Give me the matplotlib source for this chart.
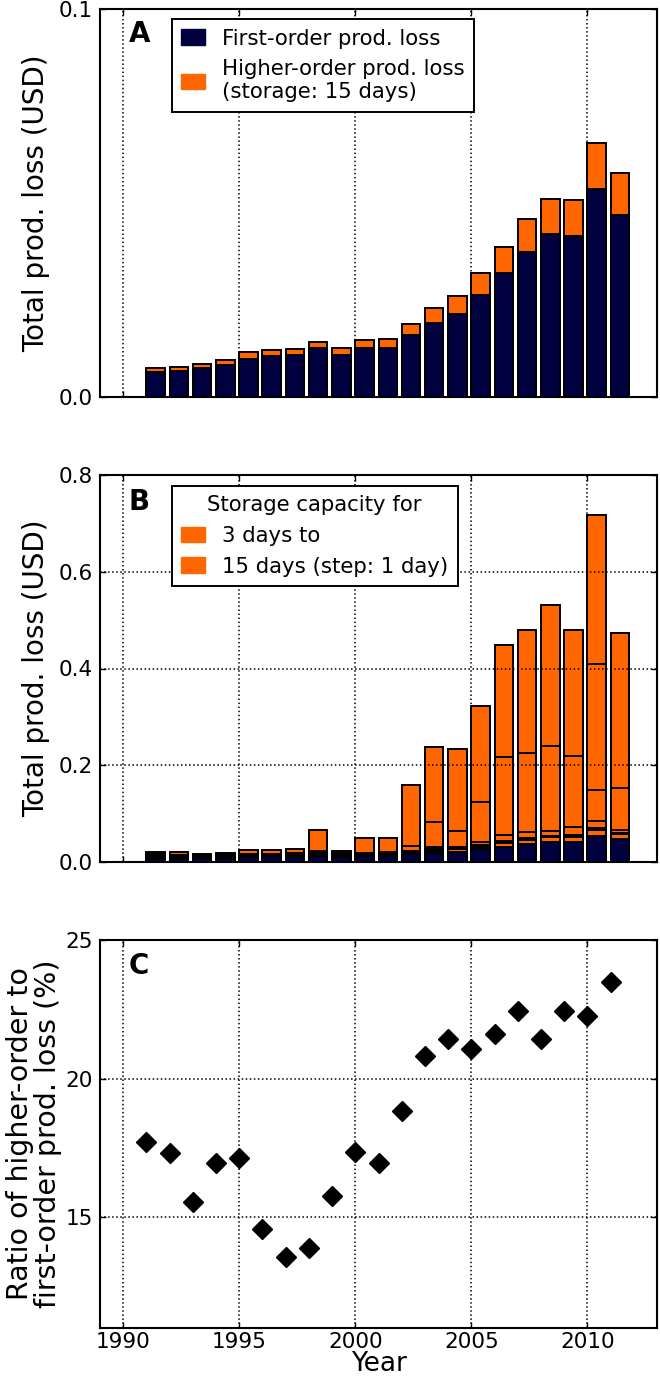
import matplotlib

matplotlib.use("Agg")
import matplotlib.pyplot as plt
from matplotlib.patches import Patch

years = list(range(1991, 2012))

# panel A: first-order loss and total with 15 days storage
first_order = [0.00645, 0.00671, 0.0074, 0.00825, 0.00989, 0.01058, 0.01092,
               0.01264, 0.01092, 0.01255, 0.01273, 0.01591, 0.01909, 0.0215,
               0.02631, 0.03199, 0.0374, 0.04196, 0.04153, 0.05365, 0.04695]
total_15_days = [0.00748, 0.00774, 0.00843, 0.00963, 0.01152, 0.01212, 0.01238,
                 0.01419, 0.01264, 0.0147, 0.01488, 0.01892, 0.02296, 0.02597,
                 0.0319, 0.03878, 0.04583, 0.05099, 0.05073, 0.06543, 0.0577]

# panel B: total loss for storage capacity 3..15 days (one list per year)
storage_days = list(range(3, 16))
total_by_year = [
    [0.0200, 0.0160, 0.0125, 0.0110, 0.0100, 0.0094, 0.0089, 0.0085, 0.0082, 0.0080, 0.0078, 0.0076, 0.00748],
    [0.0214, 0.0150, 0.0128, 0.0113, 0.0103, 0.0097, 0.0092, 0.0088, 0.0085, 0.0082, 0.0080, 0.0079, 0.00774],
    [0.0172, 0.0150, 0.0128, 0.0115, 0.0106, 0.0100, 0.0096, 0.0093, 0.0090, 0.0088, 0.0087, 0.0086, 0.00843],
    [0.0186, 0.0160, 0.0140, 0.0128, 0.0119, 0.0112, 0.0107, 0.0103, 0.0101, 0.0099, 0.0098, 0.0097, 0.00963],
    [0.0248, 0.0165, 0.0148, 0.0138, 0.0131, 0.0126, 0.0123, 0.0120, 0.0118, 0.0117, 0.0116, 0.0116, 0.01152],
    [0.0255, 0.0170, 0.0153, 0.0143, 0.0136, 0.0132, 0.0128, 0.0126, 0.0124, 0.0123, 0.0122, 0.0122, 0.01212],
    [0.0276, 0.0180, 0.0160, 0.0148, 0.0140, 0.0135, 0.0131, 0.0129, 0.0127, 0.0126, 0.0125, 0.0124, 0.01238],
    [0.0655, 0.0234, 0.0193, 0.0175, 0.0164, 0.0157, 0.0152, 0.0148, 0.0146, 0.0144, 0.0143, 0.0143, 0.01419],
    [0.0227, 0.0180, 0.0160, 0.0149, 0.0142, 0.0137, 0.0133, 0.0130, 0.0129, 0.0128, 0.0127, 0.0127, 0.01264],
    [0.0489, 0.0193, 0.0175, 0.0165, 0.0159, 0.0155, 0.0152, 0.0150, 0.0149, 0.0148, 0.0148, 0.0147, 0.0147],
    [0.0503, 0.0200, 0.0172, 0.0164, 0.0159, 0.0156, 0.0154, 0.0152, 0.0151, 0.0150, 0.0150, 0.0149, 0.01488],
    [0.160, 0.033, 0.0234, 0.0210, 0.0200, 0.0196, 0.0193, 0.0192, 0.0191, 0.0190, 0.0190, 0.0189, 0.01892],
    [0.237, 0.082, 0.031, 0.027, 0.0250, 0.0243, 0.0238, 0.0235, 0.0233, 0.0232, 0.0231, 0.0230, 0.02296],
    [0.2336, 0.064, 0.031, 0.0285, 0.0275, 0.0270, 0.0267, 0.0265, 0.0263, 0.0262, 0.0261, 0.0260, 0.02597],
    [0.3225, 0.124, 0.042, 0.035, 0.0335, 0.0328, 0.0324, 0.0322, 0.0321, 0.0320, 0.0320, 0.0319, 0.0319],
    [0.4487, 0.2164, 0.055, 0.0434, 0.0410, 0.0400, 0.0395, 0.0392, 0.0390, 0.0389, 0.0388, 0.0388, 0.03878],
    [0.4797, 0.226, 0.0627, 0.049, 0.0475, 0.0468, 0.0464, 0.0462, 0.0461, 0.0460, 0.0459, 0.0459, 0.04583],
    [0.532, 0.240, 0.064, 0.0544, 0.0525, 0.0518, 0.0514, 0.0512, 0.0511, 0.0511, 0.0510, 0.0510, 0.05099],
    [0.4797, 0.220, 0.073, 0.0558, 0.0530, 0.0520, 0.0515, 0.0512, 0.0510, 0.0509, 0.0508, 0.0508, 0.05073],
    [0.7167, 0.410, 0.149, 0.0848, 0.0696, 0.0670, 0.0662, 0.0659, 0.0657, 0.0656, 0.0655, 0.0655, 0.06543],
    [0.4735, 0.1537, 0.066, 0.0593, 0.0585, 0.0581, 0.0579, 0.0578, 0.0578, 0.0577, 0.0577, 0.0577, 0.0577],
]

# panel C: ratio of higher-order to first-order loss (%)
ratio_pct = [17.72, 17.33, 15.53, 16.97, 17.15, 14.57, 13.55, 13.89, 15.78, 17.34,
             16.97, 18.82, 20.82, 21.42, 21.07, 21.60, 22.43, 21.41, 22.44, 22.26, 23.47]

NAVY = "#000040"
ORANGE = "#ff6600"
W = 660
H = 1380


def rect(top, bottom):
    return [100 / W, 1 - bottom / H, 557 / W, (bottom - top) / H]


def style(axis, letter, letter_top):
    axis.set_xlim(1989, 2013)
    axis.set_xticks([1990, 1995, 2000, 2005, 2010])
    axis.grid(True, linestyle=":", color="black", linewidth=1.1)
    axis.set_axisbelow(False)
    axis.tick_params(direction="in", top=True, right=True, length=4, width=1,
                     labelsize=15.5, pad=5)
    axis.tick_params(axis="x", pad=3)
    for spine in axis.spines.values():
        spine.set_linewidth(1.5)
    axis.text(0.052, letter_top, letter, transform=axis.transAxes, fontsize=20,
              fontweight="bold", va="top", ha="left")


def boxed_legend(axis, handles, labels, top, **extra):
    leg = axis.legend(handles, labels, loc="upper left",
                      bbox_to_anchor=(0.129, top), borderaxespad=0,
                      fontsize=15.3, handlelength=1.1, handleheight=0.75,
                      handletextpad=0.8, fancybox=False, framealpha=1,
                      borderpad=0.45, labelspacing=0.5, **extra)
    leg.get_frame().set_edgecolor("black")
    leg.get_frame().set_linewidth(1.4)
    return leg


fig = plt.figure(figsize=(W / 100, H / 100), dpi=100)
ax_a = fig.add_axes(rect(9, 397))
ax_b = fig.add_axes(rect(475, 862))
ax_c = fig.add_axes(rect(940, 1328))

bar_kw = dict(width=0.8, align="edge", edgecolor="black", linewidth=1.4)

# A
ax_a.bar(years, total_15_days, color=ORANGE, **bar_kw)
ax_a.bar(years, first_order, color=NAVY, **bar_kw)
ax_a.set_ylim(0, 0.1)
ax_a.set_yticks([0.0, 0.1])
ax_a.set_yticklabels(["0.0", "0.1"])
ax_a.set_xticklabels([])
ax_a.set_ylabel("Total prod. loss (USD)", fontsize=20)
ax_a.yaxis.set_label_coords(-0.09, 0.5)
style(ax_a, "A", 0.972)
boxed_legend(
    ax_a,
    [Patch(facecolor=NAVY, edgecolor=NAVY), Patch(facecolor=ORANGE, edgecolor=ORANGE)],
    ["First-order prod. loss", "Higher-order prod. loss\n(storage: 15 days)"],
    0.974)

# B: tallest (3 days) first, then smaller storage bars on top
for k in range(len(storage_days)):
    ax_b.bar(years, [row[k] for row in total_by_year], color=ORANGE, **bar_kw)
ax_b.bar(years, first_order, color=NAVY, **bar_kw)
ax_b.set_ylim(0, 0.8)
ax_b.set_yticks([0.0, 0.2, 0.4, 0.6, 0.8])
ax_b.set_yticklabels(["0.0", "0.2", "0.4", "0.6", "0.8"])
ax_b.set_xticklabels([])
ax_b.set_ylabel("Total prod. loss (USD)", fontsize=20)
ax_b.yaxis.set_label_coords(-0.09, 0.5)
style(ax_b, "B", 0.966)
boxed_legend(
    ax_b,
    [Patch(facecolor=ORANGE, edgecolor=ORANGE), Patch(facecolor=ORANGE, edgecolor=ORANGE)],
    ["3 days to", "15 days (step: 1 day)"],
    0.972, title="Storage capacity for", title_fontsize=15.3)

# C
ax_c.plot(years, ratio_pct, linestyle="none", marker="D", markersize=10,
          color="black")
ax_c.set_ylim(11, 25)
ax_c.set_yticks([15, 20, 25])
ax_c.set_ylabel("Ratio of higher-order to\nfirst-order prod. loss (%)", fontsize=20.5,
                linespacing=1.0)
ax_c.yaxis.set_label_coords(-0.068, 0.5)
ax_c.set_xlabel("Year", fontsize=19, labelpad=-1)
style(ax_c, "C", 0.969)

fig.savefig("out.png", dpi=100)
